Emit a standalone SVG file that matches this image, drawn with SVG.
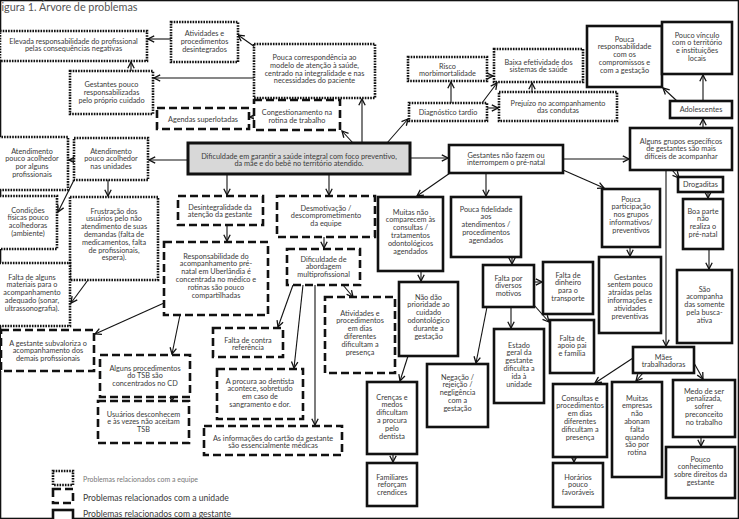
<svg xmlns="http://www.w3.org/2000/svg" width="739" height="519" viewBox="0 0 739 519">
<defs>
<marker id="ah" viewBox="0 0 8 8" refX="7.2" refY="4" markerWidth="8" markerHeight="8" orient="auto" markerUnits="userSpaceOnUse">
<path d="M1,0.8 L7.2,4 L1,7.2" fill="none" stroke="#111" stroke-width="1.3"/>
</marker>
</defs>
<style>
rect{fill:#fff;stroke:#111;stroke-width:2.6}
.d{stroke-dasharray:1.6 1.1}
.u{stroke-dasharray:8 4}
.c{fill:#d8d8d8;stroke-width:3}
text{font-family:Lato,"Open Sans","Liberation Sans",sans-serif;font-size:7.3px;fill:#3a3a3a;text-anchor:middle}
.cn line{stroke:#111;stroke-width:1.1;marker-end:url(#ah)}
.lg{text-anchor:start}
</style>
<rect width="739" height="519" fill="#fff" stroke="none"/>
<text class="lg" x="1.5" y="11" style="font-size:10.8px;fill:#555">igura 1. Árvore de problemas</text>

<g id="connectors" class="cn">
<line x1="171" y1="39" x2="148" y2="39"/>
<line x1="255" y1="47" x2="238" y2="35"/>
<line x1="254" y1="78" x2="154" y2="78"/>
<line x1="131" y1="71" x2="131" y2="62"/>
<line x1="257" y1="117" x2="250" y2="117"/>
<line x1="353" y1="143" x2="342" y2="131"/>
<line x1="362" y1="143" x2="362" y2="99"/>
<line x1="387" y1="143" x2="408" y2="119"/>
<line x1="451" y1="103" x2="451" y2="82"/>
<line x1="482" y1="103" x2="497" y2="83"/>
<line x1="487" y1="76" x2="493" y2="76"/>
<line x1="487" y1="108" x2="498" y2="108"/>
<line x1="532" y1="92" x2="532" y2="83"/>
<line x1="188" y1="160" x2="149" y2="160"/>
<line x1="74" y1="160" x2="69" y2="160"/>
<line x1="74" y1="180" x2="58" y2="212"/>
<line x1="108" y1="180" x2="108" y2="196"/>
<line x1="88" y1="280" x2="71" y2="303"/>
<line x1="227" y1="174" x2="227" y2="195"/>
<line x1="227" y1="225" x2="227" y2="241"/>
<line x1="329" y1="174" x2="329" y2="195"/>
<line x1="324" y1="237" x2="324" y2="248"/>
<line x1="164" y1="303" x2="95" y2="334"/>
<line x1="180" y1="315" x2="172" y2="354"/>
<line x1="172" y1="396" x2="172" y2="401"/>
<line x1="343" y1="285" x2="353" y2="297"/>
<line x1="293" y1="285" x2="278" y2="327"/>
<line x1="303" y1="285" x2="294" y2="368"/>
<line x1="315" y1="285" x2="315" y2="425"/>
<line x1="410" y1="158" x2="448" y2="158"/>
<line x1="563" y1="159" x2="629" y2="159"/>
<line x1="703" y1="128" x2="703" y2="119"/>
<line x1="703" y1="101" x2="703" y2="75"/>
<line x1="677" y1="101" x2="663" y2="88"/>
<line x1="672" y1="170" x2="679" y2="178"/>
<line x1="708" y1="192" x2="708" y2="198"/>
<line x1="709" y1="249" x2="709" y2="269"/>
<line x1="666" y1="170" x2="666" y2="346"/>
<line x1="450" y1="173" x2="417" y2="196"/>
<line x1="486" y1="173" x2="486" y2="196"/>
<line x1="563" y1="170" x2="604" y2="188"/>
<line x1="421" y1="271" x2="421" y2="281"/>
<line x1="512" y1="257" x2="512" y2="264"/>
<line x1="534" y1="282" x2="542" y2="282"/>
<line x1="511" y1="307" x2="511" y2="328"/>
<line x1="534" y1="305" x2="549" y2="322"/>
<line x1="487" y1="307" x2="476" y2="363"/>
<line x1="408" y1="356" x2="400" y2="381"/>
<line x1="393" y1="454" x2="393" y2="462"/>
<line x1="633" y1="358" x2="595" y2="383"/>
<line x1="643" y1="373" x2="636" y2="381"/>
<line x1="694" y1="363" x2="703" y2="379"/>
<line x1="574" y1="457" x2="574" y2="462"/>
<line x1="701" y1="437" x2="701" y2="446"/>
<line x1="630" y1="247" x2="630" y2="256"/>
</g>

<g id="n1"><rect class="d" x="0" y="31" width="147" height="30"/><text x="73.5" y="43.5"><tspan x="73.5">Elevada responsabilidade do profissional</tspan><tspan x="73.5" dy="7.8">pelas consequências negativas</tspan></text></g>
<g id="n2"><rect class="d" x="171" y="22" width="67" height="40"/><text x="204.5" y="36"><tspan x="204.5">Atividades e</tspan><tspan x="204.5" dy="7.8">procedimentos</tspan><tspan x="204.5" dy="7.8">desintegrados</tspan></text></g>
<g id="n3"><rect class="d" x="254" y="44" width="121" height="54"/><text x="314.5" y="60"><tspan x="314.5">Pouca correspondência ao</tspan><tspan x="314.5" dy="7.8">modelo de atenção à saúde,</tspan><tspan x="314.5" dy="7.8">centrado na integralidade e nas</tspan><tspan x="314.5" dy="7.8">necessidades do paciente</tspan></text></g>
<g id="n4"><rect class="d" x="70" y="71" width="83" height="43"/><text x="111.5" y="87"><tspan x="111.5">Gestantes pouco</tspan><tspan x="111.5" dy="7.8">responsabilizadas</tspan><tspan x="111.5" dy="7.8">pelo próprio cuidado</tspan></text></g>
<g id="n5"><rect class="u" x="157" y="108" width="92" height="21"/><text x="203" y="122">Agendas superlotadas</text></g>
<g id="n6"><rect class="u" x="254" y="100" width="86" height="30"/><text x="297" y="115"><tspan x="297">Congestionamento na</tspan><tspan x="297" dy="7.8">rotina de trabalho</tspan></text></g>
<g id="n7"><rect class="c" x="188" y="143" width="222" height="31"/><text x="299" y="158.5"><tspan x="299">Dificuldade em garantir a saúde integral com foco preventivo,</tspan><tspan x="299" dy="7.8">da mãe e do bebê no território atendido.</tspan></text></g>
<g id="n8"><rect class="d" x="-4" y="137" width="72" height="53"/><text x="32" y="153.5"><tspan x="32">Atendimento</tspan><tspan x="32" dy="7.8">pouco acolhedor</tspan><tspan x="32" dy="7.8">por alguns</tspan><tspan x="32" dy="7.8">profissionais</tspan></text></g>
<g id="n9"><rect class="d" x="74" y="138" width="74" height="42"/><text x="111" y="153.5"><tspan x="111">Atendimento</tspan><tspan x="111" dy="7.8">pouco acolhedor</tspan><tspan x="111" dy="7.8">nas unidades</tspan></text></g>
<g id="n10"><rect class="d" x="-3" y="196" width="60" height="53"/><text x="28" y="212.5"><tspan x="28">Condições</tspan><tspan x="28" dy="7.8">físicas pouco</tspan><tspan x="28" dy="7.8">acolhedoras</tspan><tspan x="28" dy="7.8">(ambiente)</tspan></text></g>
<g id="n11"><rect class="d" x="70" y="197" width="88" height="83"/><text x="114" y="213.5"><tspan x="114">Frustração dos</tspan><tspan x="114" dy="7.8">usuários pelo não</tspan><tspan x="114" dy="7.8">atendimento de suas</tspan><tspan x="114" dy="7.8">demandas (falta de</tspan><tspan x="114" dy="7.8">medicamentos, falta</tspan><tspan x="114" dy="7.8">de profissionais,</tspan><tspan x="114" dy="7.8">espera).</tspan></text></g>
<g id="n12"><rect class="d" x="-6" y="263" width="76" height="63"/><text x="32" y="279.5"><tspan x="32">Falta de alguns</tspan><tspan x="32" dy="7.8">materiais para o</tspan><tspan x="32" dy="7.8">acompanhamento</tspan><tspan x="32" dy="7.8">adequado (sonar,</tspan><tspan x="32" dy="7.8">ultrassonografia).</tspan></text></g>
<g id="n13"><rect class="u" x="1" y="330" width="93" height="41"/><text x="48" y="345.5"><tspan x="48">A gestante subvaloriza o</tspan><tspan x="48" dy="7.8">acompanhamento dos</tspan><tspan x="48" dy="7.8">demais profissionais</tspan></text></g>
<g id="n14"><rect class="u" x="178" y="196" width="85" height="29"/><text x="220" y="209.5"><tspan x="220">Desintegralidade da</tspan><tspan x="220" dy="7.8">atenção da gestante</tspan></text></g>
<g id="n15"><rect class="u" x="164" y="242" width="104" height="73"/><text x="216" y="258.5"><tspan x="216">Responsabilidade do</tspan><tspan x="216" dy="7.8">acompanhamento pré-</tspan><tspan x="216" dy="7.8">natal em Uberlândia é</tspan><tspan x="216" dy="7.8">concentrada no médico e</tspan><tspan x="216" dy="7.8">rotinas são pouco</tspan><tspan x="216" dy="7.8">compartilhadas</tspan></text></g>
<g id="n16"><rect class="u" x="277" y="196" width="98" height="41"/><text x="326" y="210.5"><tspan x="326">Desmotivação /</tspan><tspan x="326" dy="7.8">descomprometimento</tspan><tspan x="326" dy="7.8">da equipe</tspan></text></g>
<g id="n17"><rect class="u" x="287" y="249" width="73" height="36"/><text x="323.5" y="261.5"><tspan x="323.5">Dificuldade de</tspan><tspan x="323.5" dy="7.8">abordagem</tspan><tspan x="323.5" dy="7.8">multiprofissional</tspan></text></g>
<g id="n18"><rect class="u" x="325" y="297" width="70" height="76"/><text x="360" y="315.5"><tspan x="360">Atividades e</tspan><tspan x="360" dy="7.8">procedimentos</tspan><tspan x="360" dy="7.8">em dias</tspan><tspan x="360" dy="7.8">diferentes</tspan><tspan x="360" dy="7.8">dificultam a</tspan><tspan x="360" dy="7.8">presença</tspan></text></g>
<g id="n19"><rect class="u" x="213" y="328" width="70" height="29"/><text x="248" y="342.5"><tspan x="248">Falta de contra</tspan><tspan x="248" dy="7.8">referência</tspan></text></g>
<g id="n20"><rect class="u" x="217" y="369" width="86" height="50"/><text x="260" y="383.5"><tspan x="260">A procura ao dentista</tspan><tspan x="260" dy="7.8">acontece, sobretudo</tspan><tspan x="260" dy="7.8">em caso de</tspan><tspan x="260" dy="7.8">sangramento e dor.</tspan></text></g>
<g id="n21"><rect class="u" x="204" y="426" width="138" height="29"/><text x="273" y="440.5"><tspan x="273">As informações do cartão da gestante</tspan><tspan x="273" dy="7.8">são essencialmente médicas</tspan></text></g>
<g id="n22"><rect class="u" x="100" y="355" width="90" height="42"/><text x="145" y="370.5"><tspan x="145">Alguns procedimentos</tspan><tspan x="145" dy="7.8">do TSB são</tspan><tspan x="145" dy="7.8">concentrados no CD</tspan></text></g>
<g id="n23"><rect class="u" x="98" y="401" width="91" height="42"/><text x="143.5" y="416.5"><tspan x="143.5">Usuários desconhecem</tspan><tspan x="143.5" dy="7.8">e às vezes não aceitam</tspan><tspan x="143.5" dy="7.8">TSB</tspan></text></g>
<g id="n24"><rect class="d" x="408" y="57" width="79" height="24"/><text x="447.5" y="68.5"><tspan x="447.5">Risco</tspan><tspan x="447.5" dy="7.8">morbimortalidade</tspan></text></g>
<g id="n25"><rect class="d" x="494" y="49" width="89" height="33"/><text x="538.5" y="64.5"><tspan x="538.5">Baixa efetividade dos</tspan><tspan x="538.5" dy="7.8">sistemas de saúde</tspan></text></g>
<g id="n26"><rect class="d" x="409" y="103" width="78" height="18"/><text x="448" y="114.5">Diagnóstico tardio</text></g>
<g id="n27"><rect class="d" x="499" y="92" width="118" height="29"/><text x="558" y="105.5"><tspan x="558">Prejuízo no acompanhamento</tspan><tspan x="558" dy="7.8">das condutas</tspan></text></g>
<g id="n28"><rect x="587" y="26" width="75" height="61"/><text x="624.5" y="41.5"><tspan x="624.5">Pouca</tspan><tspan x="624.5" dy="7.8">responsabilidade</tspan><tspan x="624.5" dy="7.8">com os</tspan><tspan x="624.5" dy="7.8">compromissos e</tspan><tspan x="624.5" dy="7.8">com a gestação</tspan></text></g>
<g id="n29"><rect x="662" y="22" width="70" height="52"/><text x="697" y="37.5"><tspan x="697">Pouco vínculo</tspan><tspan x="697" dy="7.8">com o território</tspan><tspan x="697" dy="7.8">e instituições</tspan><tspan x="697" dy="7.8">locais</tspan></text></g>
<g id="n30"><rect x="670" y="101" width="62" height="17"/><text x="701" y="112">Adolescentes</text></g>
<g id="n31"><rect x="630" y="128" width="102" height="42"/><text x="681" y="143.5"><tspan x="681">Alguns grupos específicos</tspan><tspan x="681" dy="7.8">de gestantes são mais</tspan><tspan x="681" dy="7.8">difíceis de acompanhar</tspan></text></g>
<g id="n32"><rect x="449" y="145" width="114" height="28"/><text x="506" y="157.5"><tspan x="506">Gestantes não fazem ou</tspan><tspan x="506" dy="7.8">interrompem o pré-natal</tspan></text></g>
<g id="n33"><rect x="678" y="177" width="45" height="15"/><text x="700.5" y="187">Drogaditas</text></g>
<g id="n34"><rect x="683" y="199" width="40" height="50"/><text x="703" y="213.5"><tspan x="703">Boa parte</tspan><tspan x="703" dy="7.8">não</tspan><tspan x="703" dy="7.8">realiza o</tspan><tspan x="703" dy="7.8">pré-natal</tspan></text></g>
<g id="n35"><rect x="677" y="270" width="55" height="73"/><text x="704.5" y="291.5"><tspan x="704.5">São</tspan><tspan x="704.5" dy="7.8">acompanha</tspan><tspan x="704.5" dy="7.8">das somente</tspan><tspan x="704.5" dy="7.8">pela busca-</tspan><tspan x="704.5" dy="7.8">ativa</tspan></text></g>
<g id="n36"><rect x="602" y="189" width="58" height="58"/><text x="631" y="201.5"><tspan x="631">Pouca</tspan><tspan x="631" dy="7.8">participação</tspan><tspan x="631" dy="7.8">nos grupos</tspan><tspan x="631" dy="7.8">informativos/</tspan><tspan x="631" dy="7.8">preventivos</tspan></text></g>
<g id="n37"><rect x="599" y="257" width="62" height="76"/><text x="630" y="279.5"><tspan x="630">Gestantes</tspan><tspan x="630" dy="7.8">sentem pouco</tspan><tspan x="630" dy="7.8">atraídas pelas</tspan><tspan x="630" dy="7.8">informações e</tspan><tspan x="630" dy="7.8">atividades</tspan><tspan x="630" dy="7.8">preventivas</tspan></text></g>
<g id="n38"><rect x="378" y="197" width="65" height="74"/><text x="410.5" y="214.5"><tspan x="410.5">Muitas não</tspan><tspan x="410.5" dy="7.8">comparecem às</tspan><tspan x="410.5" dy="7.8">consultas /</tspan><tspan x="410.5" dy="7.8">tratamentos</tspan><tspan x="410.5" dy="7.8">odontológicos</tspan><tspan x="410.5" dy="7.8">agendados</tspan></text></g>
<g id="n39"><rect x="451" y="197" width="70" height="60"/><text x="486" y="211.5"><tspan x="486">Pouca fidelidade</tspan><tspan x="486" dy="7.8">aos</tspan><tspan x="486" dy="7.8">atendimentos /</tspan><tspan x="486" dy="7.8">procedimentos</tspan><tspan x="486" dy="7.8">agendados</tspan></text></g>
<g id="n40"><rect x="399" y="282" width="59" height="74"/><text x="428.5" y="299.5"><tspan x="428.5">Não dão</tspan><tspan x="428.5" dy="7.8">prioridade ao</tspan><tspan x="428.5" dy="7.8">cuidado</tspan><tspan x="428.5" dy="7.8">odontológico</tspan><tspan x="428.5" dy="7.8">durante a</tspan><tspan x="428.5" dy="7.8">gestação</tspan></text></g>
<g id="n41"><rect x="483" y="265" width="51" height="42"/><text x="508.5" y="280.5"><tspan x="508.5">Falta por</tspan><tspan x="508.5" dy="7.8">diversos</tspan><tspan x="508.5" dy="7.8">motivos</tspan></text></g>
<g id="n42"><rect x="543" y="262" width="50" height="52"/><text x="568" y="277.5"><tspan x="568">Falta de</tspan><tspan x="568" dy="7.8">dinheiro</tspan><tspan x="568" dy="7.8">para o</tspan><tspan x="568" dy="7.8">transporte</tspan></text></g>
<g id="n43"><rect x="494" y="329" width="50" height="74"/><text x="519" y="347.5"><tspan x="519">Estado</tspan><tspan x="519" dy="7.8">geral da</tspan><tspan x="519" dy="7.8">gestante</tspan><tspan x="519" dy="7.8">dificulta a</tspan><tspan x="519" dy="7.8">ida à</tspan><tspan x="519" dy="7.8">unidade</tspan></text></g>
<g id="n44"><rect x="550" y="320" width="44" height="53"/><text x="572" y="340.5"><tspan x="572">Falta de</tspan><tspan x="572" dy="7.8">apoio pai</tspan><tspan x="572" dy="7.8">e família</tspan></text></g>
<g id="n45"><rect x="427" y="364" width="61" height="63"/><text x="457.5" y="379.5"><tspan x="457.5">Negação /</tspan><tspan x="457.5" dy="7.8">rejeição /</tspan><tspan x="457.5" dy="7.8">negligência</tspan><tspan x="457.5" dy="7.8">com a</tspan><tspan x="457.5" dy="7.8">gestação</tspan></text></g>
<g id="n46"><rect x="367" y="382" width="50" height="72"/><text x="392" y="399.5"><tspan x="392">Crenças e</tspan><tspan x="392" dy="7.8">medos</tspan><tspan x="392" dy="7.8">dificultam</tspan><tspan x="392" dy="7.8">a procura</tspan><tspan x="392" dy="7.8">pelo</tspan><tspan x="392" dy="7.8">dentista</tspan></text></g>
<g id="n47"><rect x="367" y="463" width="50" height="43"/><text x="392" y="479.5"><tspan x="392">Familiares</tspan><tspan x="392" dy="7.8">reforçam</tspan><tspan x="392" dy="7.8">crendices</tspan></text></g>
<g id="n48"><rect x="633" y="347" width="61" height="26"/><text x="663.5" y="359.5"><tspan x="663.5">Mães</tspan><tspan x="663.5" dy="7.8">trabalhadoras</tspan></text></g>
<g id="n49"><rect x="553" y="384" width="54" height="73"/><text x="580" y="400.5"><tspan x="580">Consultas e</tspan><tspan x="580" dy="7.8">procedimentos</tspan><tspan x="580" dy="7.8">em dias</tspan><tspan x="580" dy="7.8">diferentes</tspan><tspan x="580" dy="7.8">dificultam a</tspan><tspan x="580" dy="7.8">presença</tspan></text></g>
<g id="n50"><rect x="612" y="382" width="50" height="95"/><text x="637" y="400.5"><tspan x="637">Muitas</tspan><tspan x="637" dy="7.8">empresas</tspan><tspan x="637" dy="7.8">não</tspan><tspan x="637" dy="7.8">abonam</tspan><tspan x="637" dy="7.8">falta</tspan><tspan x="637" dy="7.8">quando</tspan><tspan x="637" dy="7.8">são por</tspan><tspan x="637" dy="7.8">rotina</tspan></text></g>
<g id="n51"><rect x="673" y="380" width="62" height="57"/><text x="704" y="393.5"><tspan x="704">Medo de ser</tspan><tspan x="704" dy="7.8">penalizada,</tspan><tspan x="704" dy="7.8">sofrer</tspan><tspan x="704" dy="7.8">preconceito</tspan><tspan x="704" dy="7.8">no trabalho</tspan></text></g>
<g id="n52"><rect x="553" y="463" width="50" height="44"/><text x="578" y="479.5"><tspan x="578">Horários</tspan><tspan x="578" dy="7.8">pouco</tspan><tspan x="578" dy="7.8">favoráveis</tspan></text></g>
<g id="n53"><rect x="666" y="447" width="69" height="51"/><text x="700.5" y="461.5"><tspan x="700.5">Pouco</tspan><tspan x="700.5" dy="7.8">conhecimento</tspan><tspan x="700.5" dy="7.8">sobre direitos da</tspan><tspan x="700.5" dy="7.8">gestante</tspan></text></g>

<g id="legend">
<rect class="d" x="53" y="471" width="20" height="14"/>
<text class="lg" x="83" y="481.5" style="font-size:7px;fill:#777">Problemas relacionados com a equipe</text>
<rect class="u" x="53" y="489" width="20" height="14"/>
<text class="lg" x="83" y="500.5" style="font-size:8.6px">Problemas relacionados com a unidade</text>
<rect x="53" y="510" width="20" height="14"/>
<text class="lg" x="83" y="516.5" style="font-size:8.6px">Problemas relacionados com a gestante</text>
</g>
</svg>
